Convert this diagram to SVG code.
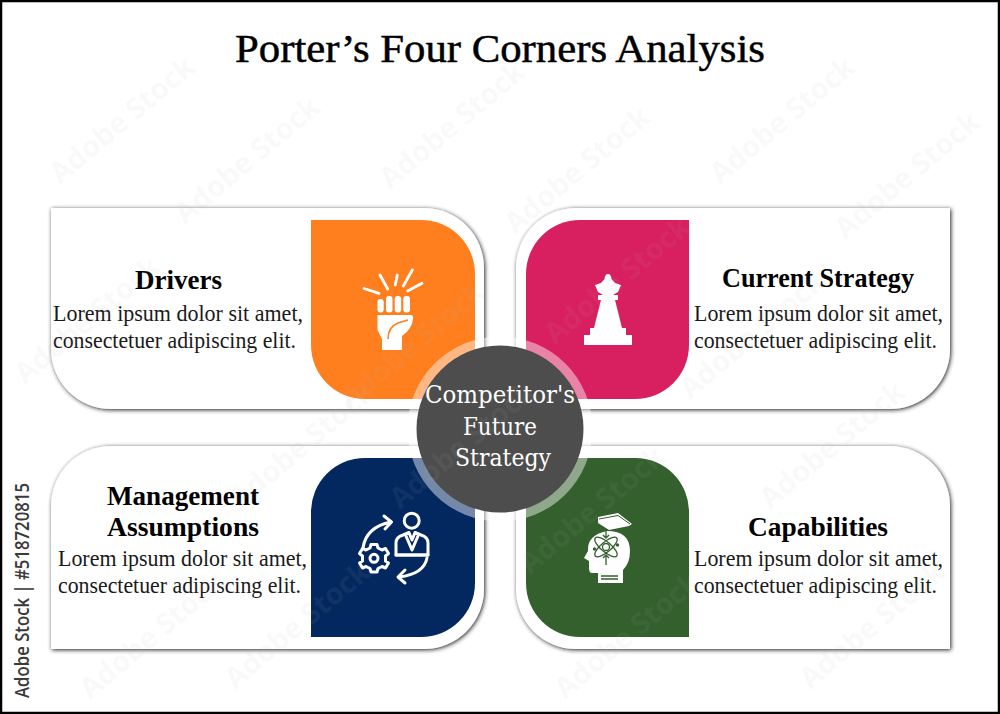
<svg xmlns="http://www.w3.org/2000/svg" width="1000" height="714" viewBox="0 0 1000 714">
<style>
.card{fill:#fff;filter:url(#sh)}
.body{font-family:"Liberation Serif","Times New Roman",serif;font-size:22.500px;fill:#1a1a1a}
.head{font-family:"Liberation Serif","Times New Roman",serif;font-size:26.500px;font-weight:bold;fill:#000}
.ctr{font-family:"DejaVu Serif",serif;font-size:24px;fill:#fff;text-anchor:middle}
.wm{font-family:"Open Sans",sans-serif;font-size:29px;font-weight:700;fill:#bbb;opacity:.07}
.w{fill:#fff}
.ws{fill:none;stroke:#fff;stroke-width:3;stroke-linecap:round;stroke-linejoin:round}
.wt{fill:none;stroke:#fff;stroke-width:2.800;stroke-linecap:round}
</style>
<defs>
<filter id="sh" x="-5%" y="-5%" width="110%" height="112%">
<feDropShadow dx="1" dy="1" stdDeviation="2" flood-color="#222" flood-opacity="1"/>
</filter>
</defs>
<rect width="1000" height="714" fill="#fff"/>
<text id="title" x="235" y="62" textLength="530" lengthAdjust="spacingAndGlyphs" stroke="#000" stroke-width=".5" style="font-family:'Liberation Serif',serif;font-size:41px;fill:#000">Porter’s Four Corners Analysis</text>

<g id="node-drivers">
<path class="card" d="M51 208H424A60 60 0 0 1 484 268V409H111A60 60 0 0 1 51 349Z"/>
<path fill="#ff7f1f" d="M311 220H421A54 54 0 0 1 475 274V399H365A54 54 0 0 1 311 345Z"/>
<g class="wt"><path d="M364 288.500L379 293.300M380 275L387.700 289M397.300 275L395.300 285M412.300 270L403.300 286M422 283.300L407.700 291"/></g>
<g class="w">
<rect x="377.500" y="299" width="6.200" height="13.500" rx="3"/><rect x="386" y="296" width="6.500" height="16.500" rx="3"/><rect x="394.700" y="296" width="6.500" height="16.500" rx="3"/><rect x="403.300" y="296" width="6.700" height="16.500" rx="3"/>
<path d="M377.500 315H411Q413.500 315 413 319Q412 329 402 336V350H382V339L377.500 330Z"/>
</g>
<path d="M388 339Q388 327 398 323L408 320" fill="none" stroke="#ff7f1f" stroke-width="1.600"/>
<text class="head" x="135" y="289" textLength="87" lengthAdjust="spacingAndGlyphs">Drivers</text>
<text class="body" x="53" y="321" textLength="250" lengthAdjust="spacingAndGlyphs">Lorem ipsum dolor sit amet,</text>
<text class="body" x="53" y="348" textLength="243" lengthAdjust="spacingAndGlyphs">consectetuer adipiscing elit.</text>
</g>

<g id="node-current-strategy">
<path class="card" d="M576 208H950V349A60 60 0 0 1 890 409H516V268A60 60 0 0 1 576 208Z"/>
<path fill="#d81f5f" d="M580 220H689V345A54 54 0 0 1 635 399H526V274A54 54 0 0 1 580 220Z"/>
<path class="w" d="M608 274Q611 274 611.500 279L615 283L621 285L618 292L613 295H618V300H615L622 328H626V335H632V345H584V335H590V328H594L601 300H598V295H603L598 292L595 285L601 283L604.500 279Q605 274 608 274Z"/>
<text class="head" x="722" y="287" textLength="192" lengthAdjust="spacingAndGlyphs">Current Strategy</text>
<text class="body" x="694" y="321" textLength="249" lengthAdjust="spacingAndGlyphs">Lorem ipsum dolor sit amet,</text>
<text class="body" x="694" y="348" textLength="243" lengthAdjust="spacingAndGlyphs">consectetuer adipiscing elit.</text>
</g>

<g id="node-management-assumptions">
<path class="card" d="M111 446H484V589A60 60 0 0 1 424 649H51V506A60 60 0 0 1 111 446Z"/>
<path fill="#03285f" d="M365 458H475V583A54 54 0 0 1 421 637H311V512A54 54 0 0 1 365 458Z"/>
<g class="ws">
<circle cx="411.700" cy="520.700" r="7.500"/>
<path d="M396 555V543Q396 537 403 535L409 532.500L412 540L415 532.500L421 535Q428 537 428 543V555Z"/>
<path d="M406 536L412 550L418 536M396 555H428"/>
<path d="M363 548Q366 527 391 522M384 516L391.500 522L385 529"/>
<path d="M427 558Q424 574 399 577M405 570L398 577L405 583"/>
<circle cx="374" cy="558.300" r="4"/>
<path d="M371 544.500H377L378 548L382 550L385.500 548.500L388.500 553.500L385.500 556V561L388.500 563L385.500 568L382 566.500L378 568.500L377 572H371L370 568.500L366 566.500L362.500 568L359.500 563L362.500 561V556L359.500 553.500L362.500 548.500L366 550L370 548Z"/>
</g>
<text class="head" x="107" y="505" textLength="152" lengthAdjust="spacingAndGlyphs">Management</text>
<text class="head" x="107" y="536" textLength="152" lengthAdjust="spacingAndGlyphs">Assumptions</text>
<text class="body" x="58" y="566" textLength="249" lengthAdjust="spacingAndGlyphs">Lorem ipsum dolor sit amet,</text>
<text class="body" x="58" y="593" textLength="243" lengthAdjust="spacingAndGlyphs">consectetuer adipiscing elit.</text>
</g>

<g id="node-capabilities">
<path class="card" d="M516 446H890A60 60 0 0 1 950 506V649H576A60 60 0 0 1 516 589Z"/>
<path fill="#33602d" d="M526 458H635A54 54 0 0 1 689 512V637H580A54 54 0 0 1 526 583Z"/>
<path class="w" d="M598 517L618 513L632 524L629 526L609 530L598 523Z"/>
<path fill="none" stroke="#33602d" stroke-width="1" d="M599 519L618 515.500L630 524"/>
<path class="w" d="M607 531Q630 531 630 551Q630 563 623 570V583H598V573H592Q589 573 589 568V561L584 558L588 551Q587 535 607 531Z"/>
<g fill="none" stroke="#33602d" stroke-width="1.300">
<ellipse cx="606" cy="547" rx="14" ry="5" transform="rotate(40 606 547)"/>
<ellipse cx="606" cy="547" rx="14" ry="5" transform="rotate(-40 606 547)"/>
<circle cx="606" cy="547" r="3.500"/>
<path d="M606 530V538M603 535L606 538L609 535M606 555V565M603 558L606 555L609 558M601 576H618M601 579H618"/>
</g>
<circle cx="594.500" cy="549" r="1.700" fill="#33602d"/><circle cx="617.500" cy="545" r="1.700" fill="#33602d"/>
<text class="head" x="748" y="536" textLength="140" lengthAdjust="spacingAndGlyphs">Capabilities</text>
<text class="body" x="694" y="566" textLength="249" lengthAdjust="spacingAndGlyphs">Lorem ipsum dolor sit amet,</text>
<text class="body" x="694" y="593" textLength="243" lengthAdjust="spacingAndGlyphs">consectetuer adipiscing elit.</text>
</g>

<g id="node-center">
<circle cx="500" cy="429" r="92.500" fill="#fff" opacity=".45"/>
<circle cx="500" cy="429" r="83.500" fill="#4d4d4d"/>
<text class="ctr" x="500" y="403" textLength="150" lengthAdjust="spacingAndGlyphs">Competitor's</text>
<text class="ctr" x="500" y="435" textLength="74" lengthAdjust="spacingAndGlyphs">Future</text>
<text class="ctr" x="503" y="466" textLength="96" lengthAdjust="spacingAndGlyphs">Strategy</text>
</g>

<g id="watermark">
<text class="wm" transform="translate(60 185) rotate(-40)">Adobe Stock</text>
<text class="wm" transform="translate(185 225) rotate(-40)">Adobe Stock</text>
<text class="wm" transform="translate(390 190) rotate(-40)">Adobe Stock</text>
<text class="wm" transform="translate(515 235) rotate(-40)">Adobe Stock</text>
<text class="wm" transform="translate(720 185) rotate(-40)">Adobe Stock</text>
<text class="wm" transform="translate(845 240) rotate(-40)">Adobe Stock</text>
<text class="wm" transform="translate(350 410) rotate(-40)">Adobe Stock</text>
<text class="wm" transform="translate(555 345) rotate(-40)">Adobe Stock</text>
<text class="wm" transform="translate(690 400) rotate(-40)">Adobe Stock</text>
<text class="wm" transform="translate(25 385) rotate(-40)">Adobe Stock</text>
<text class="wm" transform="translate(240 510) rotate(-40)">Adobe Stock</text>
<text class="wm" transform="translate(400 510) rotate(-40)">Adobe Stock</text>
<text class="wm" transform="translate(530 575) rotate(-40)">Adobe Stock</text>
<text class="wm" transform="translate(770 510) rotate(-40)">Adobe Stock</text>
<text class="wm" transform="translate(810 690) rotate(-40)">Adobe Stock</text>
<text class="wm" transform="translate(90 700) rotate(-40)">Adobe Stock</text>
<text class="wm" transform="translate(235 690) rotate(-40)">Adobe Stock</text>
<text class="wm" transform="translate(565 700) rotate(-40)">Adobe Stock</text>
</g>

<text id="stock-id" transform="translate(29 698) rotate(-90)" textLength="215" lengthAdjust="spacingAndGlyphs" style="font-family:'Open Sans',sans-serif;font-size:20px;font-weight:600;fill:#3a3a3a">Adobe Stock | #518720815</text>
<rect x="1" y="1" width="998" height="712" fill="none" stroke="#000" stroke-width="2.500"/>
</svg>
